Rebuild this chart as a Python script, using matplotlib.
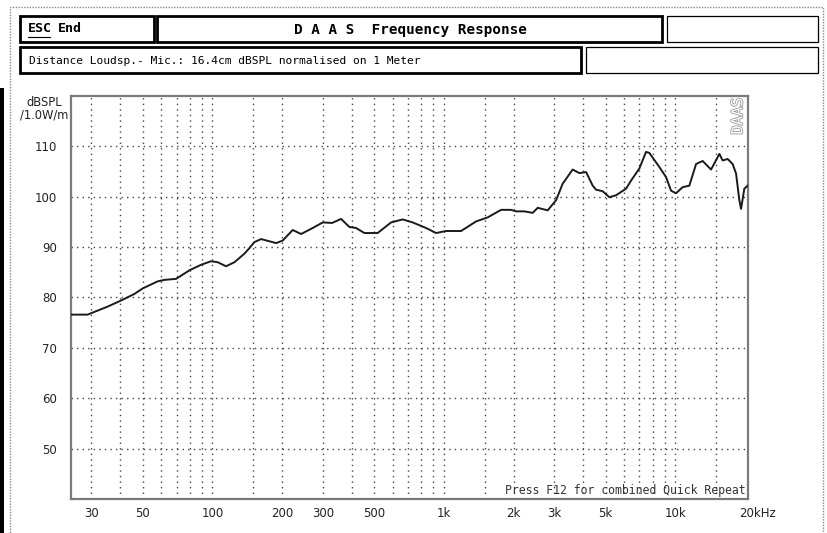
import matplotlib
matplotlib.use("Agg")
import matplotlib.pyplot as plt
import matplotlib.patheffects as pe
from matplotlib.patches import Rectangle
from matplotlib.lines import Line2D

# ---------------- data ----------------
freq_hz = [24.5, 28.9, 35.3, 40.3, 46.0, 50.0, 58.0, 62.1, 69.7, 79.6, 89.4, 98.7,
           105.4, 114.6, 124.5, 137.5, 144.5, 151.8, 162.3, 188.5, 201.2, 222.3,
           241.6, 271.3, 299.6, 329, 359.7, 390.7, 417.5, 453.5, 517.6, 591.4,
           663.7, 733.3, 837.6, 925.3, 1022, 1187, 1377, 1546, 1767, 1951, 2051,
           2227, 2419, 2543, 2808, 3052, 3261, 3601, 3848, 4116, 4395, 4545, 4853,
           5188, 5545, 6124, 6436, 6990, 7470, 7721, 8530, 9117, 9581, 10070,
           10752, 11494, 12290, 13122, 14263, 15495, 16010, 16822, 17681, 18291,
           18904, 19225, 19861, 20527]
spl_db = [76.6, 76.6, 78.2, 79.4, 80.7, 81.8, 83.2, 83.5, 83.7, 85.4, 86.5, 87.2,
          87.0, 86.2, 87.0, 88.7, 89.8, 91.0, 91.6, 90.8, 91.3, 93.4,
          92.6, 93.8, 94.9, 94.8, 95.6, 94.0, 93.8, 92.8, 92.8, 94.9,
          95.5, 94.9, 93.8, 92.8, 93.2, 93.2, 95.1, 95.9, 97.4, 97.4, 97.1,
          97.1, 96.8, 97.8, 97.3, 99.3, 102.6, 105.4, 104.7, 104.9, 102.2, 101.4, 101.1,
          99.9, 100.3, 101.6, 103.2, 105.6, 108.9, 108.7, 105.9, 103.9, 101.2, 100.7,
          101.9, 102.2, 106.5, 107.1, 105.4, 108.5, 107.2, 107.5, 106.5, 104.6,
          99.3, 97.6, 101.6, 102.2]

x_tick_vals = [30, 50, 100, 200, 300, 500, 1000, 2000, 3000, 5000, 10000]
x_tick_labels = ["30", "50", "100", "200", "300", "500", "1k", "2k", "3k", "5k", "10k"]
x_grid_vals = [30, 40, 50, 60, 70, 80, 90, 100, 150, 200, 300, 400, 500, 600, 700,
               800, 900, 1000, 1500, 2000, 3000, 4000, 5000, 6000, 7000, 8000,
               9000, 10000, 15000]
y_tick_vals = [50, 60, 70, 80, 90, 100, 110]

title_text = "D A A S  Frequency Response"
esc_text = "ESC"
end_text = "End"
info_text = "Distance Loudsp.- Mic.: 16.4cm dBSPL normalised on 1 Meter"
ylabel_1 = "dBSPL"
ylabel_2 = "/1.0W/m"
footer_text = "Press F12 for combined Quick Repeat"

# ---------------- figure ----------------
W, H = 827, 533
fig = plt.figure(figsize=(W / 100, H / 100), dpi=100)
fig.patch.set_facecolor("white")

def fx(px):
    return px / W

def fy(py):
    return 1 - py / H

def box(x0, y0, x1, y1, lw, color="black", ls="-"):
    r = Rectangle((fx(x0), fy(y1)), fx(x1) - fx(x0), fy(y0) - fy(y1),
                  transform=fig.transFigure, fill=False, lw=lw, edgecolor=color,
                  linestyle=ls)
    fig.add_artist(r)

mono = "DejaVu Sans Mono"

# outer dotted frame
box(10, 7, 823, 540, 1.0, color="#8a8a8a", ls=(0, (1, 1)))
# left black strip
fig.add_artist(Rectangle((0, 0), fx(4), fy(88), transform=fig.transFigure,
                         color="black", lw=0))

# header boxes
box(20, 16, 154, 42, 2.0)
box(157, 16, 662, 42, 2.0)
box(667, 16, 818, 42, 0.9)
box(20, 47, 581, 73, 2.0)
box(586, 47, 818, 73, 0.9)

fig.text(fx(28), fy(29), esc_text, fontsize=9.5, fontweight="bold", family=mono,
         va="center", ha="left")
fig.add_artist(Line2D([fx(28), fx(50)], [fy(36.5), fy(36.5)], transform=fig.transFigure,
                      color="black", lw=0.8))
fig.text(fx(58), fy(29), end_text, fontsize=9.5, fontweight="bold", family=mono,
         va="center", ha="left")
fig.text(fx(410), fy(30), title_text, fontsize=10.3, fontweight="bold", family=mono,
         va="center", ha="center")
fig.text(fx(29), fy(61), info_text, fontsize=8.1, family=mono, va="center", ha="left")

# ---------------- axes ----------------
ax_l, ax_r, ax_t, ax_b = 71, 748, 96, 499
ax = fig.add_axes([fx(ax_l), fy(ax_b), fx(ax_r) - fx(ax_l), fy(ax_t) - fy(ax_b)])
ax.set_xscale("log")
ax.set_xlim(24.5, 20600)
ax.set_ylim(40, 120)

for v in x_grid_vals:
    ax.axvline(v, color="#444444", lw=1.0, ls=(0, (1, 3)), zorder=1)
for v in y_tick_vals:
    ax.axhline(v, color="#444444", lw=1.0, ls=(0, (1, 3)), zorder=1)

ax.plot(freq_hz, spl_db, color="#1a1a1a", lw=1.4, zorder=3)

ax.set_xticks(x_tick_vals)
ax.set_xticklabels(x_tick_labels)
ax.xaxis.set_minor_locator(matplotlib.ticker.NullLocator())
ax.set_yticks(y_tick_vals)
ax.set_yticklabels([str(v) for v in y_tick_vals])
ax.tick_params(axis="both", length=0, labelsize=8.5, colors="#222222")
ax.tick_params(axis="y", pad=10)
ax.tick_params(axis="x", pad=6)

for s in ax.spines.values():
    s.set_color("#7a7a7a")
    s.set_linewidth(1.6)

ax.annotate("20kHz", xy=(20000, 0), xycoords=("data", "axes fraction"),
            xytext=(-4, -6), textcoords="offset points", ha="left", va="top",
            fontsize=8.5, color="#222222")

fig.text(fx(44), fy(102), ylabel_1, fontsize=8.3, ha="center", va="center", color="#222222")
fig.text(fx(44), fy(115), ylabel_2, fontsize=8.3, ha="center", va="center", color="#222222")

ax.text(0.997, 0.004, footer_text, transform=ax.transAxes, ha="right", va="bottom",
        fontsize=8.3, family=mono, color="#333333")

ax.text(0.985, 0.995, "DAAS", transform=ax.transAxes, rotation=90, ha="center",
        va="top", fontsize=11, family=mono, color="white",
        path_effects=[pe.withStroke(linewidth=1.2, foreground="#9a9a9a")])

fig.savefig("out.png", dpi=100)
